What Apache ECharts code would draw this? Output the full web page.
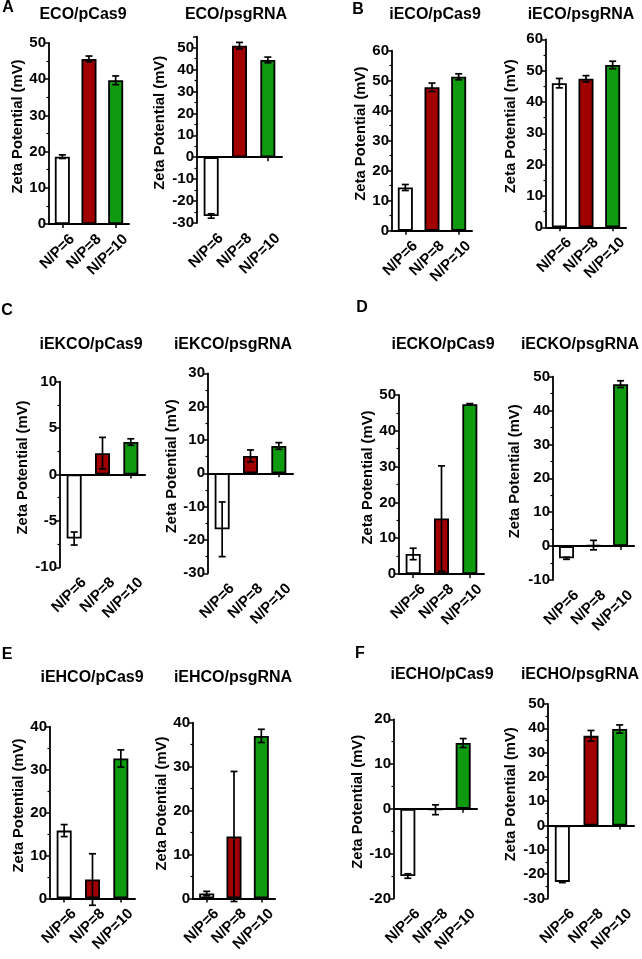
<!DOCTYPE html>
<html>
<head>
<meta charset="utf-8">
<script src="https://cdn.jsdelivr.net/npm/echarts@6/dist/echarts.min.js"></script>
<style>
  html, body { margin: 0; padding: 0; background: #fff; }
  #chart { width: 642px; height: 959px; }
</style>
</head>
<body>
<div id="chart"></div>
<script>
const categories = ["N/P=6", "N/P=8", "N/P=10"]
const barColors = ["#ffffff", "#a00000", "#0f9a0f"]

const panelTitles = [
  "ECO/pCas9", "ECO/psgRNA", "iECO/pCas9", "iECO/psgRNA",
  "iEKCO/pCas9", "iEKCO/psgRNA", "iECKO/pCas9", "iECKO/psgRNA",
  "iEHCO/pCas9", "iEHCO/psgRNA", "iECHO/pCas9", "iECHO/psgRNA",
]
const panelLetters = ["A", "B", "C", "D", "E", "F"]

// mean zeta potential (mV) per panel
const ecoCas9 = [18.6, 45.6, 39.7]
const ecoSg = [-26.8, 50.9, 44.4]
const iecoCas9 = [14.4, 47.8, 51.3]
const iecoSg = [46.0, 47.4, 51.8]
const iekcoCas9 = [-6.9, 2.3, 3.5]
const iekcoSg = [-16.8, 5.2, 8.2]
const ieckoCas9 = [5.6, 15.5, 47.4]
const ieckoSg = [-3.6, 0.3, 47.8]
const iehcoCas9 = [15.8, 4.4, 32.6]
const iehcoSg = [1.1, 14.1, 37.0]
const iechoCas9 = [-15.0, -0.2, 14.7]
const iechoSg = [-23.2, 36.9, 39.7]

// error bar half-widths (mV)
const ecoCas9Err = [0.5, 0.8, 1.2]
const ecoSgErr = [1.0, 1.5, 1.3]
const iecoCas9Err = [1.0, 1.4, 1.0]
const iecoSgErr = [1.5, 1.0, 1.2]
const iekcoCas9Err = [0.7, 1.7, 0.35]
const iekcoSgErr = [8.2, 1.8, 1.0]
const ieckoCas9Err = [1.6, 14.7, 0.2]
const ieckoSgErr = [0.3, 1.4, 1.0]
const iehcoCas9Err = [1.4, 6.0, 2.0]
const iehcoSgErr = [0.5, 14.8, 1.5]
const iechoCas9Err = [0.5, 1.1, 1.0]
const iechoSgErr = [0.3, 2.2, 1.7]

// y axis ranges [min, max, interval]
const yRanges = [
  [0, 50, 10], [-30, 55, 10], [0, 60, 10], [0, 60, 10],
  [-10, 10, 5], [-30, 30, 10], [0, 50, 10], [-10, 50, 10],
  [0, 40, 10], [0, 40, 10], [-20, 20, 10], [-30, 50, 10],
]

const means = [ecoCas9, ecoSg, iecoCas9, iecoSg, iekcoCas9, iekcoSg, ieckoCas9, ieckoSg, iehcoCas9, iehcoSg, iechoCas9, iechoSg]
const errs = [ecoCas9Err, ecoSgErr, iecoCas9Err, iecoSgErr, iekcoCas9Err, iekcoSgErr, ieckoCas9Err, ieckoSgErr, iehcoCas9Err, iehcoSgErr, iechoCas9Err, iechoSgErr]

// layout: [left, top, width, height, nameGap]
const grids = [
  [49, 43, 80, 181, 22], [197, 36.7, 85, 186.3, 30], [392, 50.7, 80, 180, 19], [546, 39.3, 80, 188, 28],
  [60, 381.7, 85, 185.6, 30], [208, 373.3, 85, 200, 28], [399, 395, 85, 179, 22], [553, 376.7, 84, 203.3, 31],
  [50, 726.7, 85, 180, 23], [193, 722.7, 82, 189, 20], [394, 719.3, 83, 180, 28], [548, 704, 86, 203.3, 30],
]
const titlePos = [
  [83, 15], [236, 15], [435, 15], [581, 15],
  [91, 345], [233, 345], [443, 345], [580, 345],
  [92, 678], [233, 678], [442, 675], [580, 675],
]
const letterPos = [[8, 8], [358, 10], [7, 311], [362, 308], [7, 655], [360, 654]]

const FONT = "'Liberation Sans', Arial, sans-serif"
const black = "#000"

function renderErr(params, api) {
  const x = api.value(0)
  const lo = api.coord([x, api.value(1)])
  const hi = api.coord([x, api.value(2)])
  const hw = 3.5
  const style = {stroke: black, lineWidth: 1.7}
  return {
    type: "group",
    children: [
      {type: "line", shape: {x1: hi[0], y1: hi[1], x2: lo[0], y2: lo[1]}, style},
      {type: "line", shape: {x1: hi[0] - hw, y1: hi[1], x2: hi[0] + hw, y2: hi[1]}, style},
      {type: "line", shape: {x1: lo[0] - hw, y1: lo[1], x2: lo[0] + hw, y2: lo[1]}, style},
    ],
  }
}

const option = {
  animation: false,
  backgroundColor: "#fff",
  textStyle: {fontFamily: FONT},
  grid: [],
  xAxis: [],
  yAxis: [],
  series: [],
  graphic: [],
}

grids.forEach((g, i) => {
  option.grid.push({left: g[0], top: g[1], width: g[2], height: g[3], containLabel: false})
  // label axis at the bottom
  option.xAxis.push({
    type: "category", gridIndex: i, data: categories, position: "bottom",
    axisLine: {show: false, onZero: false}, axisTick: {show: false},
    axisLabel: {
      rotate: 45, margin: 3, interval: 0, align: "right", verticalAlign: "top", lineHeight: 28,
      color: black, fontWeight: "bold", fontSize: 15, fontFamily: FONT,
    },
  })
  // zero line axis with ticks
  option.xAxis.push({
    type: "category", gridIndex: i, data: categories, position: "bottom",
    axisLine: {show: true, onZero: true, lineStyle: {color: black, width: 2}},
    axisTick: {show: true, alignWithLabel: true, length: 4, lineStyle: {color: black, width: 1.5}},
    axisLabel: {show: false},
  })
  const r = yRanges[i]
  option.yAxis.push({
    type: "value", gridIndex: i, min: r[0], max: r[1], interval: r[2],
    name: "Zeta Potential (mV)", nameLocation: "middle", nameGap: g[4],
    nameTextStyle: {color: black, fontWeight: "bold", fontSize: 14.8, fontFamily: FONT, padding: [0, 0, 0, 14]},
    axisLine: {show: true, lineStyle: {color: black, width: 1.8}},
    axisTick: {show: true, length: 4, lineStyle: {color: black, width: 1.5}},
    minorTick: {show: true, splitNumber: 2, length: 2.5, lineStyle: {color: black, width: 1.2}},
    splitLine: {show: false},
    axisLabel: {color: black, fontWeight: "bold", fontSize: 15, fontFamily: FONT, margin: 3},
  })
  option.series.push({
    type: "bar", xAxisIndex: i * 2, yAxisIndex: i, barWidth: 15,
    data: means[i].map((v, k) => ({value: v, itemStyle: {color: barColors[k]}})),
    itemStyle: {borderColor: black, borderWidth: 1.8},
    silent: true, z: 2,
  })
  option.series.push({
    type: "custom", xAxisIndex: i * 2, yAxisIndex: i, renderItem: renderErr,
    data: means[i].map((v, k) => [k, v - errs[i][k], v + errs[i][k]]),
    encode: {x: 0, y: [1, 2]}, silent: true, z: 5,
  })
  option.graphic.push({
    type: "text", x: titlePos[i][0], y: titlePos[i][1],
    style: {text: panelTitles[i], font: "bold 16px " + FONT, fill: black, textAlign: "center", textVerticalAlign: "middle"},
  })
})

panelLetters.forEach((t, i) => {
  option.graphic.push({
    type: "text", x: letterPos[i][0], y: letterPos[i][1],
    style: {text: t, font: "bold 16px " + FONT, fill: black, textAlign: "center", textVerticalAlign: "middle"},
  })
})

const myChart = echarts.init(document.getElementById("chart"))
myChart.setOption(option)
</script>
</body>
</html>
